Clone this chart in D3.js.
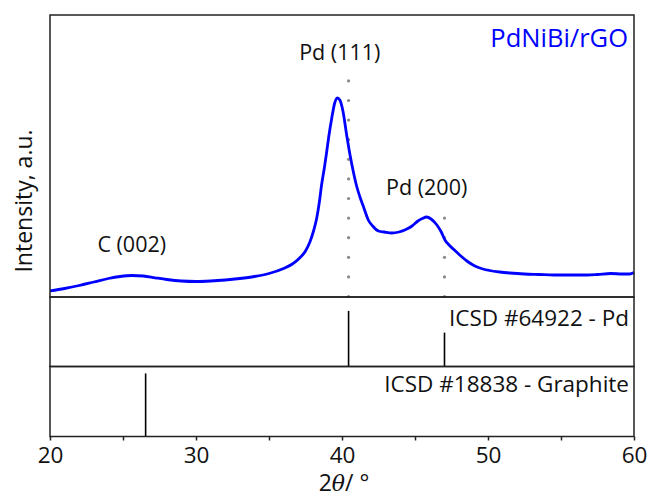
<!DOCTYPE html>
<html>
<head>
<meta charset="utf-8">
<script src="https://cdn.jsdelivr.net/npm/d3@7"></script>
<style>
  body { margin: 0; background: #fff; }
  svg { display: block; font-family: "Open Sans", sans-serif; }
</style>
</head>
<body>
<svg id="chart"></svg>
<script>
// XRD pattern, 2theta in degrees / intensity in a.u.
var twoTheta = [20.0, 21.0, 22.0, 23.0, 24.0, 24.8, 25.6, 26.4, 27.2, 28.0, 29.0, 30.0, 31.0, 32.0, 33.0,
  34.0, 35.0, 36.0, 36.6, 37.1, 37.5, 37.8, 38.05, 38.27, 38.45, 38.6, 38.8, 38.95, 39.1, 39.3, 39.5,
  39.68, 39.85, 40.05, 40.32, 40.55, 40.78, 41.0, 41.23, 41.5, 41.8, 42.1, 42.5, 42.9, 43.4, 43.9, 44.3,
  44.8, 45.2, 45.5, 45.8, 46.1, 46.5, 46.8, 47.05, 47.4, 47.7, 48.1, 48.6, 49.1, 49.65, 50.1, 50.8, 51.5,
  52.5, 53.5, 54.5, 55.5, 56.8, 57.5, 58.4, 59.2, 59.7, 60.0];
var intensity = [6, 8.5, 11.5, 15, 18.5, 20.5, 21.5, 21, 19.2, 17.5, 16, 15.5, 16, 17, 18.5,
  20.5, 23.5, 28.5, 33, 39, 46, 55, 66, 79, 95, 112, 130, 145, 161, 179, 194,
  199, 197, 187, 162, 142, 125, 111, 100, 89, 77, 71, 66, 65, 64, 65, 67,
  71, 76, 78.5, 80, 78, 72, 65, 57, 51, 47, 41.5, 35.5, 31, 28, 26.5, 25, 24,
  23, 22.5, 22, 22, 22, 22.5, 23.5, 23, 23, 24.5];

// reference cards (position, relative intensity)
var pdPos = [40.45, 47.02];
var pdInt = [100, 61];
var graphitePos = [26.55];
var graphiteInt = [100];

// peak labels
var peakNames = ["C (002)", "Pd (111)", "Pd (200)"];
var peakAt = [25.6, 39.85, 45.8];
var peakLabelI = [45, 237, 102];

var xTicks = [20, 25, 30, 35, 40, 45, 50, 55, 60];

var screen = { width: 647, height: 497 };

var svg = d3.select("#chart")
  .attr("width", screen.width)
  .attr("height", screen.height);

var left = 50, right = 634;
var top1 = 15, top2 = 297, top3 = 366.5, bottom = 436.5;

var xScale = d3.scaleLinear()
  .domain([20, 60])
  .range([left, right]);

var yScale = d3.scaleLinear()
  .domain([0, 282])
  .range([top2, top1]);

var yPd = d3.scaleLinear()
  .domain([0, 125])
  .range([top3, top2]);

var yGr = d3.scaleLinear()
  .domain([0, 111])
  .range([bottom, top3]);

// dotted guides at the Pd positions, running up from the panel bottom
var guides = svg.append("g").classed("guides", true);
pdPos.forEach(function(p, i) {
  var gx = xScale(p);
  var topY = i == 0 ? 80 : 218;
  for (var yy = top2 - 0.5; yy >= topY; yy -= 19.6) {
    guides.append("circle")
      .attr("cx", gx)
      .attr("cy", yy)
      .attr("r", 1.6)
      .attr("fill", "#8a8a8a");
  }
});

var points = twoTheta.map(function(t, i) { return [t, intensity[i]]; });

var line = d3.line()
  .x(function(d) { return xScale(d[0]); })
  .y(function(d) { return yScale(d[1]); })
  .curve(d3.curveMonotoneX);

svg.append("path")
  .datum(points)
  .attr("d", line)
  .attr("fill", "none")
  .attr("stroke", "#0000ff")
  .attr("stroke-width", 2.8)
  .attr("stroke-linejoin", "round");

// stick patterns
svg.append("g").selectAll("line")
  .data(pdPos)
  .enter()
  .append("line")
  .attr("x1", function(d) { return xScale(d); })
  .attr("x2", function(d) { return xScale(d); })
  .attr("y1", yPd(0))
  .attr("y2", function(d, i) { return yPd(pdInt[i]); })
  .attr("stroke", "#000")
  .attr("stroke-width", 1.6);

svg.append("g").selectAll("line")
  .data(graphitePos)
  .enter()
  .append("line")
  .attr("x1", function(d) { return xScale(d); })
  .attr("x2", function(d) { return xScale(d); })
  .attr("y1", yGr(0))
  .attr("y2", function(d, i) { return yGr(graphiteInt[i]); })
  .attr("stroke", "#000")
  .attr("stroke-width", 1.6);

// panel frames
[[top1, top2], [top2, top3], [top3, bottom]].forEach(function(p) {
  svg.append("rect")
    .attr("x", left)
    .attr("y", p[0])
    .attr("width", right - left)
    .attr("height", p[1] - p[0])
    .attr("fill", "none")
    .attr("stroke", "#222")
    .attr("stroke-width", 1.5);
});

// x axis
var xAxis = d3.axisBottom(xScale)
  .tickValues(xTicks)
  .tickSize(4)
  .tickFormat(function(d) { return d % 10 == 0 ? d : ""; });

var ax = svg.append("g")
  .attr("transform", "translate(0," + bottom + ")")
  .call(xAxis);
ax.select(".domain").remove();
ax.selectAll("line").attr("stroke", "#222").attr("stroke-width", 1.5);
ax.selectAll("text")
  .attr("font-size", 22.5)
  .attr("font-family", "Open Sans")
  .attr("fill", "#111")
  .attr("dy", 0)
  .attr("y", 26.5);

svg.append("text")
  .attr("x", 344)
  .attr("y", 491)
  .attr("text-anchor", "middle")
  .attr("font-size", 23)
  .attr("fill", "#111")
  .html('2<tspan font-style="italic" font-family="DejaVu Serif" font-size="22">θ</tspan>/ °');

svg.append("text")
  .attr("transform", "translate(32,201) rotate(-90)")
  .attr("text-anchor", "middle")
  .attr("font-size", 23)
  .attr("fill", "#111")
  .text("Intensity, a.u.");

// peak labels
svg.append("g").selectAll("text")
  .data(peakNames)
  .enter()
  .append("text")
  .attr("x", function(d, i) { return xScale(peakAt[i]); })
  .attr("y", function(d, i) { return yScale(peakLabelI[i]); })
  .attr("text-anchor", "middle")
  .attr("font-size", 21.5)
  .attr("fill", "#111")
  .text(function(d) { return d; });

svg.append("text")
  .attr("x", 628)
  .attr("y", 47)
  .attr("text-anchor", "end")
  .attr("font-size", 25.5)
  .attr("fill", "#0000ff")
  .text("PdNiBi/rGO");

svg.append("text")
  .attr("x", 629)
  .attr("y", 326)
  .attr("text-anchor", "end")
  .attr("font-size", 22.5)
  .attr("fill", "#111")
  .text("ICSD #64922 - Pd");

svg.append("text")
  .attr("x", 629)
  .attr("y", 392)
  .attr("text-anchor", "end")
  .attr("font-size", 22.5)
  .attr("fill", "#111")
  .text("ICSD #18838 - Graphite");
</script>
</body>
</html>
